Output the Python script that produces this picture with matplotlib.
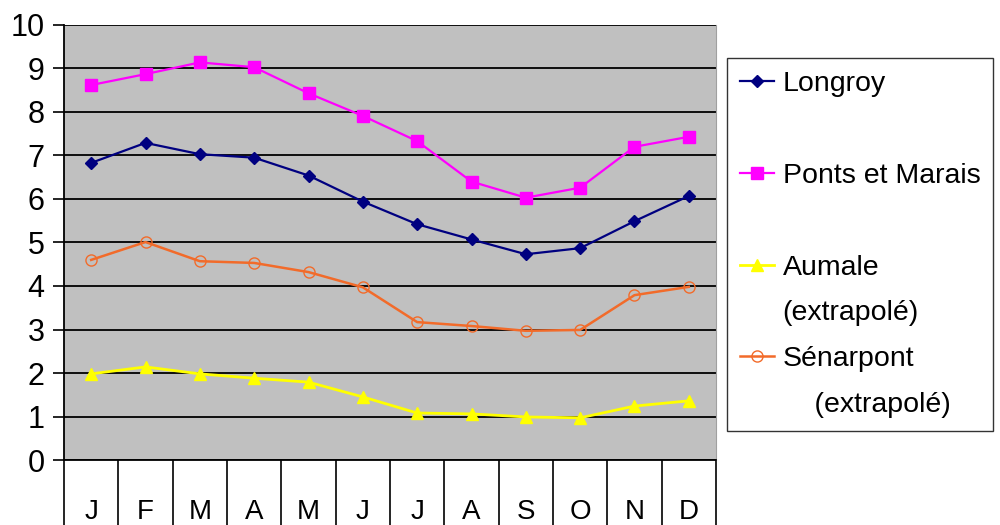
import matplotlib
matplotlib.use("Agg")
import matplotlib.pyplot as plt
from matplotlib.lines import Line2D
import numpy as np

plt.rcParams['font.family'] = ['Liberation Sans', 'DejaVu Sans']

# mois (initiales)
mois = ["J", "F", "M", "A", "M", "J", "J", "A", "S", "O", "N", "D"]

longroy = [6.83, 7.29, 7.03, 6.95, 6.54, 5.94, 5.42, 5.07, 4.73, 4.87, 5.49, 6.07]
ponts_marais = [8.62, 8.87, 9.14, 9.03, 8.43, 7.91, 7.33, 6.40, 6.03, 6.26, 7.20, 7.43]
aumale = [1.98, 2.14, 1.98, 1.88, 1.79, 1.45, 1.08, 1.06, 0.99, 0.97, 1.24, 1.36]
senarpont = [4.60, 5.01, 4.57, 4.53, 4.32, 3.97, 3.17, 3.08, 2.97, 2.99, 3.79, 3.98]

fig = plt.figure(figsize=(10, 5.25), dpi=100)
ax = fig.add_axes([0.064, 0.1238, 0.652, 0.8286])
ax.set_facecolor('#c0c0c0')

x = np.arange(len(mois))

# grille horizontale noire
ax.set_axisbelow(True)
ax.yaxis.grid(True, color='black', linewidth=1.3)

l1, = ax.plot(x, longroy, color='#000080', marker='D', markersize=6, linewidth=1.6, label='Longroy')
l2, = ax.plot(x, ponts_marais, color='#ff00ff', marker='s', markersize=8, linewidth=1.6, label='Ponts et Marais')
l3, = ax.plot(x, aumale, color='#ffff00', marker='^', markersize=8, linewidth=2, label='Aumale')
l4, = ax.plot(x, senarpont, color='#f26b2a', marker='o', markersize=8, markerfacecolor='none',
              markeredgewidth=1.0, linewidth=1.8, label='Sénarpont')

ax.set_xlim(-0.5, 11.5)
ax.set_ylim(0, 10)
ax.set_yticks(range(0, 11))
ax.tick_params(axis='y', labelsize=22, length=8, width=1.2, pad=6, direction='out')

# cases des mois sous l'axe
ax.set_xticks(x)
ax.set_xticklabels(mois)
ax.set_xticks(np.arange(-0.5, 12, 1), minor=True)
ax.tick_params(axis='x', which='major', length=0, labelsize=20, pad=28)
ax.tick_params(axis='x', which='minor', length=60, width=1.2, color='black', direction='out')

ax.spines['left'].set_linewidth(1.3)
ax.spines['bottom'].set_linewidth(1.3)
ax.spines['top'].set_visible(False)
ax.spines['right'].set_color('#a0a0a0')

# légende
vide = Line2D([], [], linestyle='none')
handles = [l1, vide, l2, vide, l3, vide, l4, vide]
labels = ['Longroy', '', 'Ponts et Marais', '', 'Aumale', '(extrapolé)', 'Sénarpont', '    (extrapolé)']
leg = fig.legend(handles, labels, loc='upper left', bbox_to_anchor=(0.727, 0.8895),
                 fontsize=20.5, frameon=True, fancybox=False, labelspacing=0.70,
                 handlelength=1.2, handletextpad=0.3, borderpad=0.45, borderaxespad=0)
leg.get_frame().set_edgecolor('black')
leg.get_frame().set_linewidth(1.0)

fig.savefig('out.png', dpi=100)
